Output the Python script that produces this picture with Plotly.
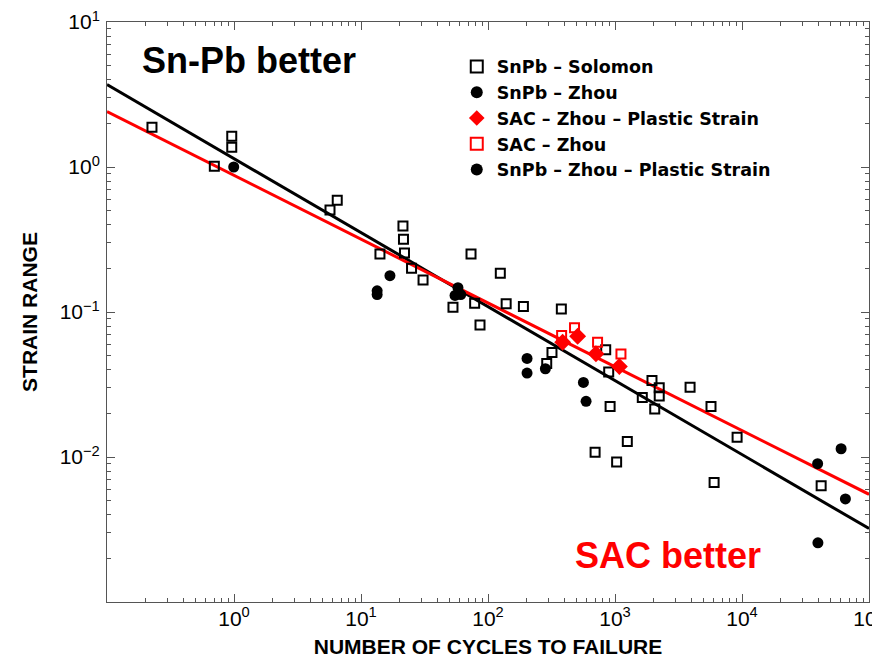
import plotly.graph_objects as go

# ---------------- data ----------------
solomon_x = [0.226, 0.70, 0.96, 0.96, 5.7, 6.5, 14.1, 21.4, 21.6, 22.0, 25.0, 30.8,
             53, 73.5, 78.5, 86.5, 125, 139, 190, 378, 319, 290, 845, 892, 915,
             1640, 1955, 2230, 2230, 2055, 3900, 5700, 9150, 6030, 42000, 697, 1030, 1250]
solomon_y = [1.88, 1.01, 1.63, 1.37, 0.505, 0.59, 0.251, 0.392, 0.318, 0.255, 0.20, 0.166,
             0.108, 0.251, 0.115, 0.0815, 0.185, 0.114, 0.109, 0.105, 0.0526, 0.0442, 0.055, 0.0386, 0.0223,
             0.0257, 0.0337, 0.030, 0.0263, 0.0214, 0.0303, 0.0223, 0.0137, 0.00667, 0.00633, 0.0108, 0.00925, 0.0128]

zhou_x = [0.995, 16.9, 13.4, 13.4, 58, 55, 61]
zhou_y = [1.0, 0.178, 0.140, 0.132, 0.147, 0.130, 0.132]

zhou_plastic_x = [203, 203, 283, 564, 592, 39400, 60300, 65200, 39600]
zhou_plastic_y = [0.0478, 0.0379, 0.0406, 0.0327, 0.0242, 0.0090, 0.0114, 0.00514, 0.00256]

sac_plastic_x = [387, 508, 708, 1082]
sac_plastic_y = [0.0619, 0.0681, 0.0515, 0.0421]

sac_x = [380, 480, 729, 1114]
sac_y = [0.0689, 0.0778, 0.0619, 0.0513]

fit_x = [0.1, 1e5]
snpb_fit_y = [3.7, 0.00321]
sac_fit_y = [2.41, 0.00553]

x_tick_vals = [1, 10, 100, 1000, 10000, 100000]
x_tick_text = ["10<sup>0</sup>", "10<sup>1</sup>", "10<sup>2</sup>", "10<sup>3</sup>",
               "10<sup>4</sup>", "10<sup>5</sup>"]
y_tick_vals = [0.01, 0.1, 1, 10]
y_tick_text = ["10<sup>−2</sup>", "10<sup>−1</sup>", "10<sup>0</sup>", "10<sup>1</sup>"]

# ---------------- figure ----------------
FONT = "Liberation Sans, Arial, Helvetica, sans-serif"
LEGEND_FONT = "DejaVu Sans, Liberation Sans, Arial, sans-serif"
fig = go.Figure()

fig.add_trace(go.Scatter(x=fit_x, y=snpb_fit_y, mode="lines",
                         line=dict(color="black", width=3), showlegend=False, hoverinfo="skip"))
fig.add_trace(go.Scatter(x=fit_x, y=sac_fit_y, mode="lines",
                         line=dict(color="#ff0000", width=3), showlegend=False, hoverinfo="skip"))

fig.add_trace(go.Scatter(x=solomon_x, y=solomon_y, mode="markers", name="SnPb – Solomon",
                         marker=dict(symbol="square-open", size=9, color="black",
                                     line=dict(width=2, color="#222222"))))
fig.add_trace(go.Scatter(x=zhou_x, y=zhou_y, mode="markers", name="SnPb – Zhou",
                         marker=dict(symbol="circle", size=11, color="black")))
fig.add_trace(go.Scatter(x=sac_plastic_x, y=sac_plastic_y, mode="markers",
                         name="SAC – Zhou – Plastic Strain",
                         marker=dict(symbol="diamond", size=13, color="#ff0000")))
fig.add_trace(go.Scatter(x=sac_x, y=sac_y, mode="markers", name="SAC – Zhou",
                         marker=dict(symbol="square-open", size=9, color="#ff0000",
                                     line=dict(width=2, color="#ff0000"))))
fig.add_trace(go.Scatter(x=zhou_plastic_x, y=zhou_plastic_y, mode="markers",
                         name="SnPb – Zhou – Plastic Strain",
                         marker=dict(symbol="circle", size=11, color="black")))

minor_x = [m * 10 ** e for e in range(-1, 5) for m in range(2, 10)]
minor_y = [m * 10 ** e for e in range(-3, 1) for m in range(2, 10)]

axis_common = dict(showgrid=False, zeroline=False, showline=True, linecolor="#555555",
                   linewidth=1, mirror="ticks", ticks="inside", ticklen=8,
                   tickcolor="#555555", automargin=False, ticklabeloverflow="allow",
                   tickfont=dict(family=FONT, size=21, color="black"))

fig.update_xaxes(type="log", range=[-1, 5], tickmode="array", tickvals=x_tick_vals,
                 ticktext=x_tick_text,
                 minor=dict(tickmode="array", tickvals=minor_x, ticks="inside", ticklen=4,
                            tickcolor="#555555", showgrid=False),
                 title=dict(text="<b>NUMBER OF CYCLES TO FAILURE</b>",
                            font=dict(family=FONT, size=21, color="black"), standoff=11),
                 ticklabelstandoff=-2,
                 **axis_common)
fig.update_yaxes(type="log", range=[-3, 1], tickmode="array", tickvals=y_tick_vals,
                 ticktext=y_tick_text,
                 minor=dict(tickmode="array", tickvals=minor_y, ticks="inside", ticklen=4,
                            tickcolor="#555555", showgrid=False),
                 title=dict(text="<b>STRAIN RANGE</b>",
                            font=dict(family=FONT, size=21, color="black"), standoff=16),
                 ticklabelstandoff=2,
                 **axis_common)

fig.add_annotation(x=0.1857, y=1.0, xref="paper", yref="paper", text="<b>Sn-Pb better</b>",
                   showarrow=False, font=dict(family=FONT, size=36, color="black"),
                   xanchor="center", yanchor="top", yshift=-16)
fig.add_annotation(x=0.736, y=0.081, xref="paper", yref="paper", text="<b>SAC better</b>",
                   showarrow=False, font=dict(family=FONT, size=36, color="#ff0000"),
                   xanchor="center", yanchor="middle")

# page body adds an 8px offset, so the figure is 8px smaller and margins shifted
fig.update_layout(
    width=872, height=650,
    margin=dict(l=99, r=11, t=14, b=56),
    paper_bgcolor="white", plot_bgcolor="white",
    font=dict(family=FONT, color="black"),
    showlegend=True,
    legend=dict(x=0.459, y=0.954, xanchor="left", yanchor="top",
                bgcolor="rgba(0,0,0,0)", borderwidth=0,
                font=dict(family=LEGEND_FONT, size=17.5, color="black", weight="bold"),
                itemsizing="constant", itemwidth=30, tracegroupgap=0),
)

fig.write_html("out.html")
